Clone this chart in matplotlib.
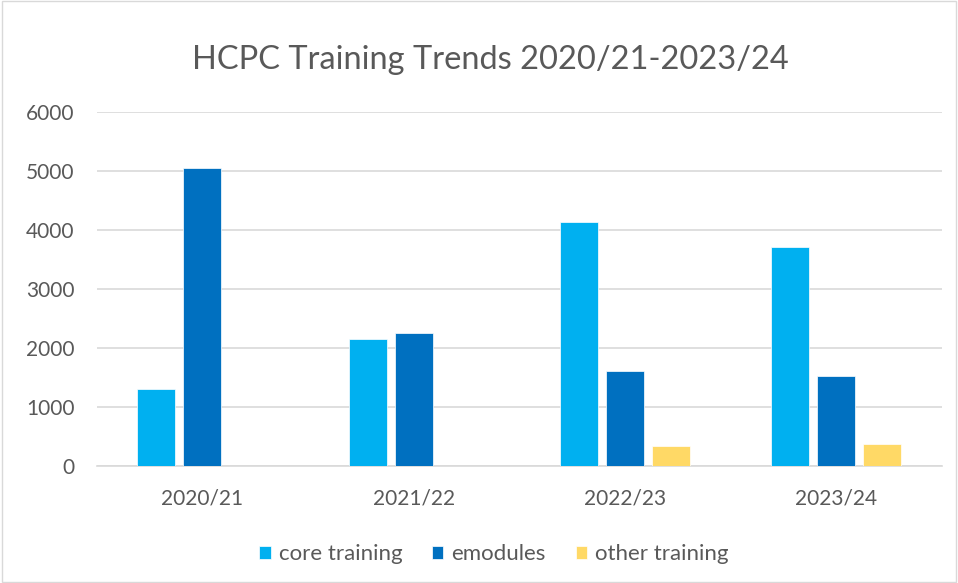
import matplotlib.pyplot as plt
import numpy as np
from matplotlib.patches import Rectangle

years = ['2020/21', '2021/22', '2022/23', '2023/24']
core_training = [1300, 2150, 4130, 3710]
emodules = [5060, 2250, 1605, 1520]
other_training = [0, 0, 345, 368]

series = ['core training', 'emodules', 'other training']
colors = ['#00B0F0', '#0070C0', '#FFD966']
text_color = '#595959'

plt.rcParams['font.family'] = ['Lato', 'DejaVu Sans']

fig = plt.figure(figsize=(9.58, 5.83), dpi=100)
ax = fig.add_axes([0.101, 0.2007, 0.882, 0.607])

x = np.arange(len(years))
width = 0.18
step = 0.218
for i, (vals, name, col) in enumerate(zip([core_training, emodules, other_training], series, colors)):
    ax.bar(x + (i - 1) * step, vals, width, color=col, label=name, zorder=3,
           edgecolor='white', linewidth=0.5)

ax.set_xlim(-0.5, len(years) - 0.5)
ax.set_ylim(0, 6000)
ax.set_yticks(range(0, 6001, 1000))
ax.set_xticks(x)
ax.set_xticklabels(years)
ax.grid(axis='y', color='#D9D9D9', linewidth=1.2, zorder=0)
for s in ['top', 'right', 'left']:
    ax.spines[s].set_visible(False)
ax.spines['bottom'].set_color('#D9D9D9')
ax.spines['bottom'].set_linewidth(1.2)
ax.tick_params(axis='both', length=0, colors=text_color, labelsize=15)
ax.tick_params(axis='y', pad=16)
ax.tick_params(axis='x', pad=16)

fig.text(0.512, 0.897, 'HCPC Training Trends 2020/21-2023/24', ha='center', va='center',
         fontsize=23.5, color=text_color)

leg = ax.legend(loc='upper center', bbox_to_anchor=(0.47, -0.165), ncol=3, frameon=False,
                fontsize=16, handlelength=0.5, handleheight=0.55, handletextpad=0.36,
                columnspacing=1.35, labelcolor=text_color)

fig.patches.append(Rectangle((0.002, 0.002), 0.996, 0.996, transform=fig.transFigure,
                             fill=False, edgecolor='#D9D9D9', linewidth=1))

fig.savefig('out.png', dpi=100)
